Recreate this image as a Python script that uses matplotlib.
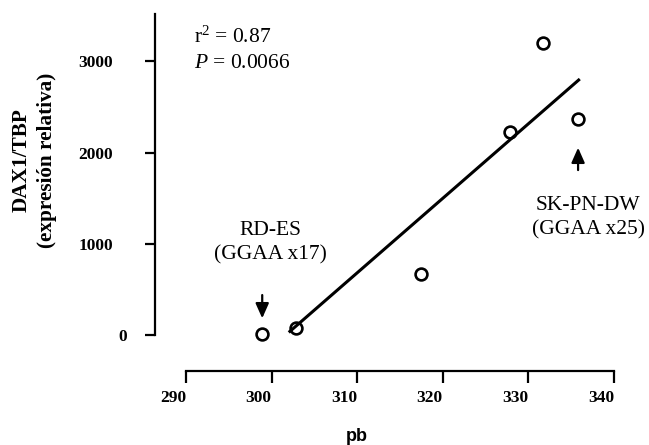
import numpy as np
import matplotlib
matplotlib.use('Agg')
import matplotlib.pyplot as plt
from matplotlib.transforms import ScaledTranslation

# data
pb = [298.9, 302.9, 317.4, 327.85, 331.7, 335.8]
dax1 = [10, 77, 671, 2230, 3205, 2369]
x_ticks = [290, 300, 310, 320, 330, 340]
y_ticks = [0, 1000, 2000, 3000]
fit_range = [302.0, 336.0]
stats_text = ['r$^2$ = 0.87', '$P$ = 0.0066']

serif = 'Liberation Serif'
sans = 'Liberation Sans'
plt.rcParams['mathtext.fontset'] = 'custom'
plt.rcParams['mathtext.rm'] = serif
plt.rcParams['mathtext.it'] = serif + ':italic'

fig = plt.figure(figsize=(6.49, 4.45), dpi=100)
# axes placed so spines sit where the original has them
ax = fig.add_axes([0.2393, 0.1663, 0.7332, 0.8085])
ax.set_xlim(286.41, 342)
ax.set_ylim(-391, 3550)

# regression line through all points
slope, intercept = np.polyfit(pb, dax1, 1)
xf = np.array(fit_range)
ax.plot(xf, slope * xf + intercept, color='black', lw=2.2, zorder=3, solid_capstyle='butt')
ax.plot(pb, dax1, 'o', mfc='none', mec='black', ms=8.5, mew=1.9, zorder=2, clip_on=False)

# offset spines, prism style
for s in ['top', 'right']:
	ax.spines[s].set_visible(False)
ax.spines['left'].set_bounds(0, 3520)
ax.spines['bottom'].set_bounds(290, 340)
ax.spines['left'].set_linewidth(1.6)
ax.spines['bottom'].set_linewidth(1.6)

ax.set_xticks(x_ticks)
ax.set_yticks(y_ticks)
ax.tick_params(axis='y', direction='out', length=7, width=1.6, pad=23.5, labelsize=12.5)
ax.tick_params(axis='x', direction='out', length=8.4, width=1.6, pad=5, labelsize=12.5)
ax.set_xticklabels([str(t) for t in x_ticks], ha='right')
ax.set_yticklabels([str(t) for t in y_ticks])
for lab in ax.get_xticklabels() + ax.get_yticklabels():
	lab.set_fontfamily(serif)
	lab.set_fontweight('bold')
	lab.set_fontsize(12.5)
# the zero label sits further right in the original
lab0 = ax.get_yticklabels()[0]
lab0.set_transform(lab0.get_transform() + ScaledTranslation(0.14, 0, fig.dpi_scale_trans))

# stats
ax.text(290.9, 3270, stats_text[0], fontfamily=serif, fontsize=15.5, ha='left', va='center')
ax.text(290.9, 2975, stats_text[1], fontfamily=serif, fontsize=15.5, ha='left', va='center')

# cell line annotations
ax.text(299.9, 1016, 'RD-ES\n(GGAA x17)', fontfamily=serif, fontsize=15.5, ha='center', va='center',
	multialignment='center', linespacing=1.4)
ax.annotate('', xy=(298.9, 186), xytext=(298.9, 441),
	arrowprops=dict(arrowstyle='-|>,head_length=0.9,head_width=0.4', lw=1.6, color='black',
		shrinkA=0, shrinkB=0, mutation_scale=10))
ax.text(337.0, 1290, 'SK-PN-DW\n(GGAA x25)', fontfamily=serif, fontsize=15.5, ha='center', va='center',
	multialignment='center', linespacing=1.4, clip_on=False)
ax.annotate('', xy=(335.8, 2055), xytext=(335.8, 1810),
	arrowprops=dict(arrowstyle='-|>,head_length=0.9,head_width=0.4', lw=1.6, color='black',
		shrinkA=0, shrinkB=0, mutation_scale=10))

# axis titles
fig.text(34 / 649, 1 - 160 / 445, 'DAX1/TBP\n(expresión relativa)', fontfamily=serif, fontweight='bold',
	fontsize=15.3, rotation=90, ha='center', va='center', multialignment='center', linespacing=1.35)
fig.text(356.7 / 649, 1 - 436.7 / 445, 'pb', fontfamily=sans, fontweight='bold', fontsize=13,
	ha='center', va='center')

fig.savefig('out.png', dpi=100)
